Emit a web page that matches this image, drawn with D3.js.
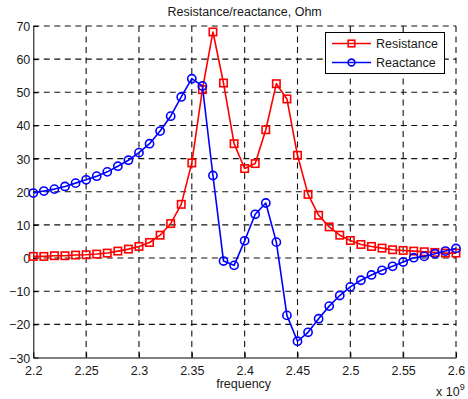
<!DOCTYPE html>
<html>
<head>
<meta charset="utf-8">
<script src="https://cdn.jsdelivr.net/npm/d3@7"></script>
<style>
  html, body { margin: 0; padding: 0; background: #fff; }
  svg { display: block; font-family: "Liberation Sans", Arial, sans-serif; }
</style>
</head>
<body>
<svg id="chart" width="468" height="399"></svg>
<script>
// ---- data (frequency in units of 1e9 Hz) ----
const frequency = [2.20, 2.21, 2.22, 2.23, 2.24, 2.25, 2.26, 2.27, 2.28, 2.29,
                   2.30, 2.31, 2.32, 2.33, 2.34, 2.35, 2.36, 2.37, 2.38, 2.39,
                   2.40, 2.41, 2.42, 2.43, 2.44, 2.45, 2.46, 2.47, 2.48, 2.49,
                   2.50, 2.51, 2.52, 2.53, 2.54, 2.55, 2.56, 2.57, 2.58, 2.59, 2.60];
const resistance = [0.5, 0.5, 0.7, 0.7, 0.9, 1.0, 1.2, 1.5, 2.1, 2.7,
                    3.5, 4.7, 6.9, 10.4, 16.2, 28.7, 50.8, 68.2, 52.8, 34.5,
                    27.0, 28.5, 38.7, 52.6, 48.0, 31.0, 19.2, 12.9, 9.4, 6.9,
                    5.3, 4.1, 3.5, 3.0, 2.5, 2.3, 2.1, 1.9, 1.7, 1.5, 1.5];
const reactance = [19.6, 20.2, 20.8, 21.6, 22.6, 23.6, 24.7, 26.0, 27.7, 29.5,
                   31.8, 34.5, 38.3, 42.8, 48.6, 54.1, 51.9, 24.9, -0.9, -2.2,
                   5.2, 13.2, 16.6, 4.8, -17.3, -25.1, -22.4, -18.3, -14.5, -11.3,
                   -8.7, -6.7, -5.1, -3.7, -2.5, -1.2, 0.1, 0.5, 1.3, 2.1, 2.9];
const xTicks = [2.2, 2.25, 2.3, 2.35, 2.4, 2.45, 2.5, 2.55, 2.6];
const xTickLabels = ["2.2", "2.25", "2.3", "2.35", "2.4", "2.45", "2.5", "2.55", "2.6"];
const yTicks = [-30, -20, -10, 0, 10, 20, 30, 40, 50, 60, 70];
const seriesNames = ["Resistance", "Reactance"];
const seriesColors = ["#ff0000", "#0000ff"];
const titleText = "Resistance/reactance, Ohm";
const xLabelText = "frequency";

// ---- layout ----
const L = 33.3, R = 456, T = 26, B = 357.5;
const fs = 12.5;
const svg = d3.select("#chart");
const x = d3.scaleLinear().domain([2.2, 2.6]).range([L, R]);
const y = d3.scaleLinear().domain([-30, 70]).range([B, T]);

// grid
const grid = svg.append("g").attr("stroke", "#111").attr("stroke-width", 1.1)
  .attr("stroke-dasharray", "6,4.5").attr("fill", "none");
grid.selectAll("line.gx").data(xTicks.slice(1)).join("line")
  .attr("x1", d => x(d)).attr("x2", d => x(d)).attr("y1", B).attr("y2", T);
grid.selectAll("line.gy").data(yTicks.slice(1)).join("line")
  .attr("y1", d => y(d)).attr("y2", d => y(d)).attr("x1", L).attr("x2", R);

// axes (ticks inside)
const xAxis = d3.axisBottom(x).tickValues(xTicks)
  .tickFormat((d, i) => xTickLabels[i]).tickSizeInner(-5).tickSizeOuter(0).tickPadding(9);
const gx = svg.append("g").attr("transform", `translate(0,${B})`).call(xAxis);
const yAxis = d3.axisLeft(y).tickValues(yTicks).tickSizeInner(-5).tickSizeOuter(0).tickPadding(3);
const gy = svg.append("g").attr("transform", `translate(${L},0)`).call(yAxis);
[gx, gy].forEach(g => {
  g.select(".domain").attr("stroke", "#000").attr("stroke-width", 1);
  g.selectAll(".tick line").attr("stroke", "#000");
  g.selectAll(".tick text").attr("fill", "#1a1a1a")
    .style("font-size", fs + "px").style("font-family", "Liberation Sans, Arial, sans-serif");
});
gy.selectAll(".tick text").attr("dy", "0.36em");

// lines & markers
const line = d3.line().x(d => x(d[0])).y(d => y(d[1]));
const seriesData = [resistance, reactance].map(vals => frequency.map((f, i) => [f, vals[i]]));
const sq = 7.4, rad = 4.1;

seriesData.forEach((data, si) => {
  const c = seriesColors[si];
  svg.append("path").datum(data).attr("d", line)
    .attr("fill", "none").attr("stroke", c).attr("stroke-width", 1.6).attr("stroke-linejoin", "round");
  if (si === 0) {
    svg.append("g").selectAll("rect").data(data).join("rect")
      .attr("x", d => x(d[0]) - sq / 2).attr("y", d => y(d[1]) - sq / 2)
      .attr("width", sq).attr("height", sq)
      .attr("fill", "none").attr("stroke", c).attr("stroke-width", 1.6);
  } else {
    svg.append("g").selectAll("circle").data(data).join("circle")
      .attr("cx", d => x(d[0])).attr("cy", d => y(d[1])).attr("r", rad)
      .attr("fill", "none").attr("stroke", c).attr("stroke-width", 1.6);
  }
});

// title & labels
svg.append("text").attr("x", (L + R) / 2).attr("y", 15.5).attr("text-anchor", "middle")
  .attr("fill", "#1a1a1a").style("font-size", fs + "px").text(titleText);
svg.append("text").attr("x", (L + R) / 2 - 1).attr("y", 388).attr("text-anchor", "middle")
  .attr("fill", "#1a1a1a").style("font-size", fs + "px").text(xLabelText);
const ex = svg.append("text").attr("x", 436).attr("y", 396).attr("fill", "#1a1a1a")
  .style("font-size", fs + "px");
ex.append("tspan").text("x 10");
ex.append("tspan").attr("dy", -6).style("font-size", "9px").text("9");

// legend
const lg = svg.append("g");
lg.append("rect").attr("x", 325.5).attr("y", 32.5).attr("width", 119).attr("height", 41)
  .attr("fill", "#fff").attr("stroke", "#000").attr("stroke-width", 1);
seriesNames.forEach((name, i) => {
  const ly = 43.5 + i * 19;
  lg.append("line").attr("x1", 332).attr("x2", 371).attr("y1", ly).attr("y2", ly)
    .attr("stroke", seriesColors[i]).attr("stroke-width", 1.6);
  if (i === 0) {
    lg.append("rect").attr("x", 351.5 - 3.3).attr("y", ly - 3.3).attr("width", 6.6).attr("height", 6.6)
      .attr("fill", "none").attr("stroke", seriesColors[i]).attr("stroke-width", 1.6);
  } else {
    lg.append("circle").attr("cx", 351.5).attr("cy", ly).attr("r", 3.4)
      .attr("fill", "none").attr("stroke", seriesColors[i]).attr("stroke-width", 1.6);
  }
  lg.append("text").attr("x", 376).attr("y", ly).attr("dy", "0.36em").attr("fill", "#1a1a1a")
    .style("font-size", fs + "px").text(name);
});
</script>
</body>
</html>
